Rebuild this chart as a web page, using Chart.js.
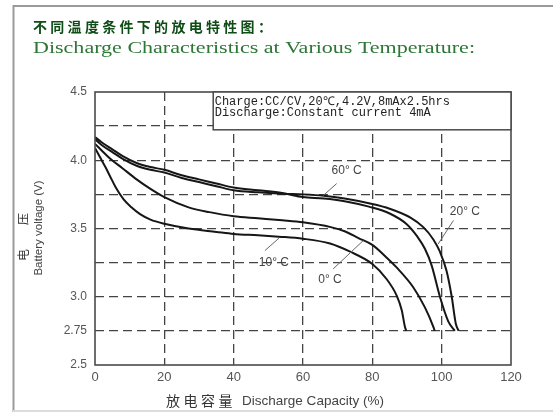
<!DOCTYPE html>
<html>
<head>
<meta charset="utf-8">
<script src="https://cdn.jsdelivr.net/npm/chart.js@4.4.1/dist/chart.umd.min.js"></script>
<style>
html,body{margin:0;padding:0;background:#fff;}
#wrap{position:relative;width:553px;height:412px;}
</style>
</head>
<body>
<div id="wrap"><canvas id="c" width="553" height="412"></canvas></div>
<script>
// ---- texts ----
const titleCN = '不同温度条件下的放电特性图：';
const titleEN = 'Discharge Characteristics at Various Temperature:';
const xTitleCN = '放电容量';
const xTitleEN = 'Discharge Capacity (%)';
const yTitleCN = ['电', '压'];
const yTitleEN = 'Battery voltage (V)';
const noteLines = ['Charge:CC/CV,20℃,4.2V,8mAx2.5hrs', 'Discharge:Constant current 4mA'];

// ---- ticks ----
const xTicks = [0, 20, 40, 60, 80, 100, 120];
const yTicks = [2.5, 2.75, 3.0, 3.25, 3.5, 3.75, 4.0, 4.25, 4.5];
const yTickLabels = ['2.5', '2.75', '3.0', '', '3.5', '', '4.0', '', '4.5'];

// ---- series ----
const seriesNames = ['60° C', '20° C', '0° C', '10° C'];

const cap60 = [0, 2, 5, 8, 12, 16, 20, 25, 30, 35, 40, 47, 54, 60, 66, 72, 79, 85, 90, 93, 95.2, 97.1, 99.5, 101.9, 103.8];
const volt60 = [4.17, 4.13, 4.08, 4.03, 3.98, 3.95, 3.93, 3.89, 3.86, 3.83, 3.80, 3.78, 3.76, 3.73, 3.72, 3.70, 3.66, 3.61, 3.53, 3.44, 3.35, 3.23, 3.00, 2.82, 2.75];

const cap20 = [0, 2, 5, 8, 12, 16, 20, 25, 30, 35, 40, 47, 54, 60, 66, 72, 79, 85, 91, 94.7, 97.6, 99.5, 101.4, 102.9, 104.1, 104.9];
const volt20 = [4.155, 4.11, 4.06, 4.01, 3.96, 3.93, 3.91, 3.87, 3.84, 3.81, 3.78, 3.765, 3.755, 3.75, 3.74, 3.72, 3.685, 3.645, 3.58, 3.51, 3.42, 3.33, 3.19, 3.00, 2.80, 2.75];

const cap0 = [0, 2, 4, 8, 12, 16, 20, 27, 33, 40, 47, 54, 60, 68, 72, 76, 80, 84, 87, 91.8, 95.2, 97.6, 98];
const volt0 = [4.12, 4.07, 4.02, 3.94, 3.86, 3.79, 3.73, 3.655, 3.62, 3.59, 3.575, 3.56, 3.545, 3.51, 3.48, 3.43, 3.38, 3.29, 3.215, 3.07, 2.92, 2.78, 2.75];

const cap10 = [0, 1.5, 3, 4.3, 6, 8.2, 10.5, 13, 16, 20, 27, 35, 40, 47, 53, 60, 67.8, 73.6, 80, 84.1, 87, 88.5, 89.4, 89.8];
const volt10 = [4.09, 4.02, 3.95, 3.885, 3.80, 3.715, 3.655, 3.605, 3.565, 3.535, 3.50, 3.475, 3.46, 3.45, 3.44, 3.425, 3.39, 3.33, 3.24, 3.13, 3.01, 2.90, 2.78, 2.75];

// ---- curve label annotations (data units) ----
const curveLabels = [
  {text: seriesNames[0], tx: 72.6, ty: 3.926, from: [69.7, 3.829], to: [65.9, 3.743]},
  {text: seriesNames[1], tx: 106.7, ty: 3.625, from: [103.4, 3.559], to: [99.0, 3.387]},
  {text: seriesNames[2], tx: 67.8, ty: 3.125, from: [68.7, 3.204], to: [77.4, 3.412]},
  {text: seriesNames[3], tx: 51.6, ty: 3.25, from: [49.0, 3.338], to: [53.1, 3.43]}
];
const noteBox = {x0: 34.1, x1: 120, y0: 4.223, y1: 4.5};

function pts(xs, ys) { return xs.map((x, i) => ({x: x, y: ys[i]})); }

const lineStyle = {borderColor: '#161616', borderWidth: 2, pointRadius: 0, fill: false, cubicInterpolationMode: 'monotone'};

function drawSpaced(ctx, text, x, y, pitch) {
  for (let i = 0; i < text.length; i++) ctx.fillText(text[i], x + i * pitch, y);
}
function drawFit(ctx, text, x, y, width) {
  const w = ctx.measureText(text).width;
  ctx.save();
  ctx.translate(x, y);
  ctx.scale(width / w, 1);
  ctx.fillText(text, 0, 0);
  ctx.restore();
}

const decor = {
  id: 'decor',
  afterDraw(chart) {
    const ctx = chart.ctx;
    const xs = chart.scales.x, ys = chart.scales.y;
    const a = chart.chartArea;
    ctx.save();
    // outer frame
    ctx.strokeStyle = '#9a9a9a';
    ctx.lineWidth = 2;
    ctx.beginPath();
    ctx.moveTo(13.5, 420); ctx.lineTo(13.5, 6); ctx.lineTo(560, 6);
    ctx.stroke();
    ctx.strokeStyle = '#dcdcdc';
    ctx.beginPath(); ctx.moveTo(13, 411); ctx.lineTo(553, 411); ctx.stroke();

    // plot frame
    ctx.strokeStyle = '#4a4a4a';
    ctx.lineWidth = 1.6;
    ctx.strokeRect(a.left, a.top, a.right - a.left, a.bottom - a.top);

    // note box
    const bx0 = xs.getPixelForValue(noteBox.x0), bx1 = xs.getPixelForValue(noteBox.x1);
    const by0 = ys.getPixelForValue(noteBox.y1), by1 = ys.getPixelForValue(noteBox.y0);
    ctx.fillStyle = '#fff';
    ctx.fillRect(bx0, by0, bx1 - bx0, by1 - by0);
    ctx.strokeStyle = '#4a4a4a';
    ctx.lineWidth = 1.5;
    ctx.strokeRect(bx0, by0, bx1 - bx0, by1 - by0);
    ctx.fillStyle = '#222';
    ctx.font = '12px "Liberation Mono", monospace';
    ctx.textBaseline = 'middle';
    ctx.textAlign = 'left';
    ctx.fillText(noteLines[0], bx0 + 1.5, by0 + 9.5);
    ctx.fillText(noteLines[1], bx0 + 1.5, by0 + 21);

    // curve labels
    ctx.font = '12px "Liberation Sans", Arial, sans-serif';
    ctx.textAlign = 'center';
    ctx.strokeStyle = '#666';
    ctx.lineWidth = 1;
    curveLabels.forEach(l => {
      ctx.beginPath();
      ctx.moveTo(xs.getPixelForValue(l.from[0]), ys.getPixelForValue(l.from[1]));
      ctx.lineTo(xs.getPixelForValue(l.to[0]), ys.getPixelForValue(l.to[1]));
      ctx.stroke();
      ctx.fillStyle = '#444';
      ctx.fillText(l.text, xs.getPixelForValue(l.tx), ys.getPixelForValue(l.ty));
    });

    // titles
    ctx.textAlign = 'left';
    ctx.textBaseline = 'middle';
    ctx.fillStyle = '#0e4d16';
    ctx.font = 'bold 14px "Noto Sans CJK SC", sans-serif';
    drawSpaced(ctx, titleCN, 33, 27, 17.3);
    ctx.fillStyle = '#2c7636';
    ctx.font = '17px "Liberation Serif", serif';
    ctx.textBaseline = 'alphabetic';
    drawFit(ctx, titleEN, 33, 53, 442);

    // x title
    ctx.textBaseline = 'middle';
    ctx.fillStyle = '#333';
    ctx.font = '14px "Noto Sans CJK SC", sans-serif';
    drawSpaced(ctx, xTitleCN, 166, 401, 17.5);
    ctx.fillStyle = '#444';
    ctx.font = '13px "Liberation Sans", Arial, sans-serif';
    drawFit(ctx, xTitleEN, 242, 401, 142);

    // y title (rotated)
    ctx.save();
    ctx.translate(39, 228);
    ctx.rotate(-Math.PI / 2);
    ctx.textAlign = 'center';
    ctx.font = '11.5px "Liberation Sans", Arial, sans-serif';
    ctx.fillStyle = '#444';
    ctx.fillText(yTitleEN, 0, 0);
    ctx.restore();
    ctx.font = '12px "Noto Sans CJK SC", sans-serif';
    ctx.fillStyle = '#333';
    [[yTitleCN[0], 255], [yTitleCN[1], 219]].forEach(([t, yy]) => {
      ctx.save();
      ctx.translate(23, yy);
      ctx.rotate(-Math.PI / 2);
      ctx.textAlign = 'center';
      ctx.fillText(t, 0, 0);
      ctx.restore();
    });
    ctx.restore();
  }
};

const gridColor = (edgeVals) => (c) => (c.tick && edgeVals.includes(c.tick.value)) ? 'rgba(0,0,0,0)' : '#444';

new Chart(document.getElementById('c'), {
  type: 'line',
  data: {
    datasets: [
      Object.assign({label: seriesNames[0], data: pts(cap60, volt60)}, lineStyle),
      Object.assign({label: seriesNames[1], data: pts(cap20, volt20)}, lineStyle),
      Object.assign({label: seriesNames[2], data: pts(cap0, volt0)}, lineStyle),
      Object.assign({label: seriesNames[3], data: pts(cap10, volt10)}, lineStyle)
    ]
  },
  options: {
    responsive: false,
    animation: false,
    devicePixelRatio: 1,
    layout: {padding: {left: 0, right: 42, top: 92, bottom: 0}},
    plugins: {legend: {display: false}, tooltip: {enabled: false}, title: {display: false}},
    scales: {
      x: {
        type: 'linear', min: 0, max: 120,
        afterBuildTicks: s => { s.ticks = xTicks.map(v => ({value: v})); },
        afterFit: s => { s.height = 47; },
        grid: {color: gridColor([0, 120]), lineWidth: 1.3, drawTicks: false},
        border: {display: false, dash: [9, 5]},
        ticks: {padding: 5, color: '#555', font: {family: '"Liberation Sans", Arial, sans-serif', size: 13}, maxRotation: 0, autoSkip: false}
      },
      y: {
        type: 'linear', min: 2.5, max: 4.5,
        afterBuildTicks: s => { s.ticks = yTicks.map(v => ({value: v})); },
        afterFit: s => { s.width = 95; },
        grid: {color: gridColor([2.5, 4.5]), lineWidth: 1.3, drawTicks: false},
        border: {display: false, dash: [9, 5]},
        ticks: {padding: 8, color: '#555', font: {family: '"Liberation Sans", Arial, sans-serif', size: 12},
          autoSkip: false, callback: (v) => yTickLabels[yTicks.indexOf(v)]}
      }
    }
  },
  plugins: [decor]
});
</script>
</body>
</html>
